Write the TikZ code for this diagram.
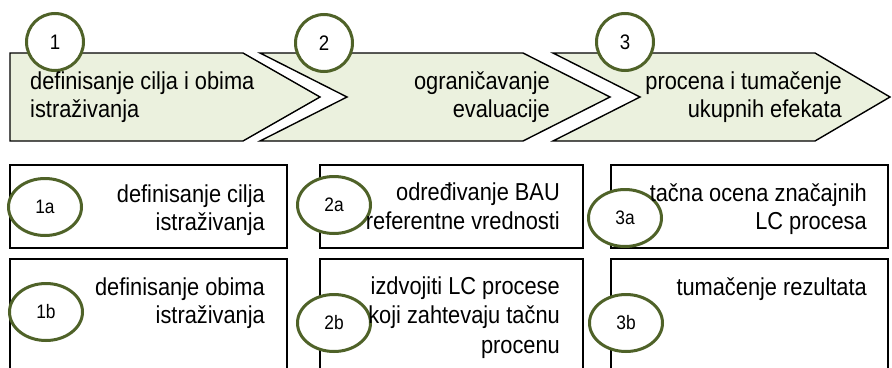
\documentclass[tikz,border=0pt]{standalone}
\usepackage{fontspec}
\setmainfont{Liberation Sans}[FakeStretch=0.89]
\usetikzlibrary{shapes.geometric}
\definecolor{chevfill}{HTML}{EBF1DE}
\definecolor{olive}{HTML}{4F6228}
\begin{document}
\begin{tikzpicture}[x=1pt,y=-1pt,
  chev/.style={draw=black,line width=1.4pt,fill=chevfill,line join=miter},
  box/.style={draw=black,line width=1.4pt,fill=white,rectangle,inner sep=0pt},
  numcircle/.style={circle,draw=olive,line width=3pt,fill=white,minimum size=57pt,inner sep=0pt,font=\fontsize{21}{24}\selectfont},
  numoval/.style={ellipse,draw=olive,line width=3pt,fill=white,minimum width=73pt,minimum height=57pt,inner sep=0pt,font=\fontsize{19.5}{22}\selectfont},
  lbl/.style={inner sep=0pt,font=\fontsize{24.5}{28.5}\selectfont},
  lblr/.style={lbl,align=right,anchor=north east},
  lbll/.style={lbl,align=left,anchor=north west}]
\useasboundingbox (0,0) rectangle (892,367);
\clip (0,0) rectangle (892,367);
% chevrons
\draw[chev] (10,53) -- (243,53) -- (320,97) -- (243,141) -- (10,141) -- cycle;
\draw[chev] (260,53) -- (523,53) -- (610,97) -- (523,141) -- (260,141) -- (347,97) -- cycle;
\draw[chev] (553,53) -- (815,53) -- (890,97) -- (815,141) -- (553,141) -- (640,97) -- cycle;
\node[numcircle] (c1) at (55,42) {1};
\node[numcircle] (c2) at (324,43) {2};
\node[numcircle] (c3) at (625,42) {3};
\node[lbll] (t1) at (30,71.5) {definisanje cilja i obima\\istraživanja};
\node[lblr] (t2) at (550,71) {ograničavanje\\evaluacije};
\node[lblr] (t3) at (842,71) {procena i tumačenje\\ukupnih efekata};
% boxes
\node[box,minimum width=277pt,minimum height=83pt] (b1a) at (148.5,206.5) {};
\node[box,minimum width=263pt,minimum height=83pt] (b2a) at (451.5,206.5) {};
\node[box,minimum width=277pt,minimum height=83pt] (b3a) at (749.5,206.5) {};
\node[box,minimum width=277pt,minimum height=130pt] (b1b) at (148.5,324) {};
\node[box,minimum width=263pt,minimum height=130pt] (b2b) at (451.5,324) {};
\node[box,minimum width=277pt,minimum height=130pt] (b3b) at (749.5,324) {};
% ovals
\node[numoval] (o1a) at (45,207) {1a};
\node[numoval] (o1b) at (46,312) {1b};
\node[numoval] (o2a) at (334,205) {2a};
\node[numoval] (o2b) at (334,323) {2b};
\node[numoval] (o3a) at (625,218) {3a};
\node[numoval] (o3b) at (626,323) {3b};
% box texts
\node[lblr] (x1a) at (265,184.5) {definisanje cilja\\istraživanja};
\node[lblr] (x1b) at (265,277.5) {definisanje obima\\istraživanja};
\node[lblr] (x2a) at (560,183) {određivanje BAU\\referentne vrednosti};
\node[lblr,font=\fontsize{24.5}{29.5}\selectfont] (x2b) at (560,276.5) {izdvojiti LC procese\\koji zahtevaju tačnu\\procenu};
\node[lblr] (x3a) at (867,183) {tačna ocena značajnih\\LC procesa};
\node[lblr] (x3b) at (867,277.5) {tumačenje rezultata};
\end{tikzpicture}
\end{document}
